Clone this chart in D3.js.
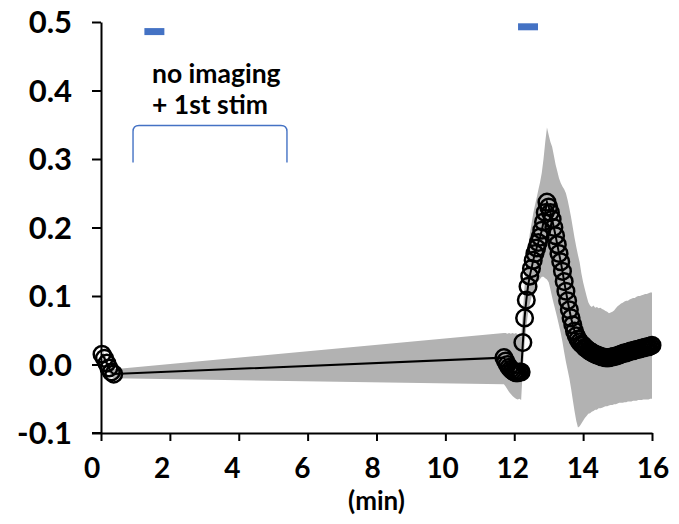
<!DOCTYPE html>
<html>
<head>
<meta charset="utf-8">
<script src="https://cdn.jsdelivr.net/npm/d3@7"></script>
<style>
  html, body { margin: 0; padding: 0; background: #fff; }
  svg { display: block; }
  text { font-family: Lato, "Open Sans", sans-serif; font-weight: 700; fill: #000; }
</style>
</head>
<body>
<svg id="chart" width="679" height="524"></svg>
<script>
// ---- data -------------------------------------------------------------
// first imaging block (min, dF/F)
const earlyTime  = [0.03, 0.10, 0.17, 0.23, 0.30, 0.37];
const earlyMean  = [0.015, 0.009, 0.002, -0.005, -0.011, -0.014];
const earlyUpper = [0.021, 0.015, 0.008, 0.001, -0.005, -0.007];
const earlyLower = [0.009, 0.003, -0.004, -0.011, -0.017, -0.020];

// second imaging block (min)
const lateTime = [
  11.70,11.75,11.80,11.85,11.90,11.95,12.00,12.05,12.10,12.15,12.20,
  12.25,12.30,12.35,12.40,12.45,12.50,12.55,12.60,12.65,12.70,12.75,12.80,12.85,12.90,12.95,
  13.00,13.05,13.10,13.15,13.20,13.25,13.30,13.35,13.40,13.45,13.50,13.55,13.60,13.65,13.70,13.75,13.80,13.85,13.90,13.95,
  14.00,14.05,14.10,14.15,14.20,14.25,14.30,14.35,14.40,14.45,14.50,14.55,14.60,14.65,14.70,14.75,14.80,14.85,14.90,14.95,
  15.00,15.05,15.10,15.15,15.20,15.25,15.30,15.35,15.40,15.45,15.50,15.55,15.60,15.65,15.70,15.75,15.80,15.85,15.90,15.95,16.00
];
const lateMean = [
  0.010,0.005,0.000,-0.004,-0.007,-0.009,-0.011,-0.012,-0.012,-0.011,-0.011,
  0.032,0.068,0.094,0.114,0.129,0.140,0.152,0.162,0.170,0.178,0.186,0.196,0.208,0.222,0.237,
  0.230,0.222,0.212,0.200,0.188,0.175,0.162,0.150,0.136,0.121,0.107,0.093,0.080,0.068,0.058,0.049,0.042,0.037,0.033,0.030,
  0.028,0.025,0.023,0.021,0.019,0.018,0.016,0.015,0.014,0.013,0.012,0.011,0.011,0.010,0.010,0.010,0.011,0.011,0.012,0.012,
  0.013,0.014,0.015,0.016,0.017,0.017,0.018,0.019,0.020,0.020,0.021,0.022,0.022,0.023,0.024,0.024,0.025,0.026,0.026,0.027,0.028
];
const lateUpper = [
  0.046,0.046,0.045,0.046,0.045,0.046,0.045,0.046,0.044,0.043,0.040,
  0.075,0.115,0.145,0.170,0.190,0.205,0.220,0.232,0.243,0.255,0.266,0.280,0.300,0.325,0.346,
  0.335,0.325,0.318,0.305,0.292,0.282,0.272,0.265,0.260,0.256,0.250,0.240,0.228,0.215,0.200,0.185,0.172,0.160,0.149,0.133,
  0.120,0.110,0.100,0.091,0.086,0.084,0.086,0.083,0.084,0.082,0.083,0.081,0.080,0.078,0.077,0.075,0.076,0.077,0.079,0.082,
  0.085,0.087,0.089,0.090,0.092,0.093,0.093,0.095,0.096,0.097,0.097,0.099,0.100,0.100,0.101,0.102,0.103,0.103,0.104,0.105,0.105
];
const lateLower = [
  -0.029,-0.032,-0.036,-0.040,-0.043,-0.046,-0.048,-0.050,-0.051,-0.050,-0.052,
  -0.005,0.030,0.055,0.075,0.088,0.098,0.106,0.112,0.118,0.122,0.125,0.128,0.128,0.126,0.124,
  0.120,0.110,0.098,0.088,0.078,0.068,0.057,0.046,0.033,0.018,0.004,-0.008,-0.020,-0.035,-0.052,-0.068,-0.082,-0.092,-0.090,-0.086,
  -0.082,-0.078,-0.075,-0.072,-0.071,-0.069,-0.068,-0.066,-0.066,-0.064,-0.064,-0.063,-0.062,-0.061,-0.061,-0.060,-0.059,-0.059,-0.058,-0.058,
  -0.057,-0.056,-0.056,-0.056,-0.055,-0.055,-0.054,-0.054,-0.054,-0.053,-0.053,-0.053,-0.052,-0.052,-0.052,-0.051,-0.051,-0.051,-0.051,-0.050,-0.050
];

// stimulation periods (min) and the level their bars sit at
const stimStart = [1.26, 12.11];
const stimEnd   = [1.84, 12.69];
const stimLevel = [0.486, 0.493];

// axis ticks
const xTicks = [0, 2, 4, 6, 8, 10, 12, 14, 16];
const xTickLabels = ["0", "2", "4", "6", "8", "10", "12", "14", "16"];
const yTicks = [-0.1, 0.0, 0.1, 0.2, 0.3, 0.4, 0.5];
const yTickLabels = ["-0.1", "0.0", "0.1", "0.2", "0.3", "0.4", "0.5"];
const xTitle = "(min)";
const noteLines = ["no imaging", "+ 1st stim"];

// ---- assemble ---------------------------------------------------------
const points = earlyTime.map((t, i) => ({ t, v: earlyMean[i], hi: earlyUpper[i], lo: earlyLower[i] }))
  .concat(lateTime.map((t, i) => ({ t, v: lateMean[i], hi: lateUpper[i], lo: lateLower[i] })));

const svg = d3.select("#chart");

const x = d3.scaleLinear().domain([0, 16]).range([101, 652]);
const y = d3.scaleLinear().domain([-0.1, 0.5]).range([433, 22]);
// tick labels are spread slightly wider than the tick marks
const xLab = d3.scaleLinear().domain([0, 16]).range([92, 653]);

const blue = "#4472C4";

// axes
const gx = svg.append("g").attr("transform", `translate(0,${y(-0.1)})`)
  .call(d3.axisBottom(x).tickValues(xTicks).tickSize(8).tickSizeOuter(0).tickFormat(""));
const gy = svg.append("g").attr("transform", `translate(${x(0)},0)`)
  .call(d3.axisLeft(y).tickValues(yTicks).tickSize(9).tickSizeOuter(0).tickFormat(""));
[gx, gy].forEach(g => {
  g.selectAll("path.domain").attr("stroke", "#000").attr("stroke-width", 2);
  g.selectAll(".tick line").attr("stroke", "#000").attr("stroke-width", 2);
});
// x axis line continues to the left under the bottom y tick
svg.append("line")
  .attr("x1", x(0) - 9).attr("x2", x(0))
  .attr("y1", y(-0.1)).attr("y2", y(-0.1))
  .attr("stroke", "#000").attr("stroke-width", 2);

svg.append("g").selectAll("text").data(xTicks).join("text")
  .attr("x", d => xLab(d)).attr("y", 478)
  .attr("text-anchor", "middle").attr("font-size", 28)
  .text((d, i) => xTickLabels[i]);

svg.append("g").selectAll("text").data(yTicks).join("text")
  .attr("x", 72).attr("y", d => y(d))
  .attr("dy", "0.36em")
  .attr("text-anchor", "end").attr("font-size", 31)
  .text((d, i) => yTickLabels[i]);

svg.append("text")
  .attr("x", (x(0) + x(16)) / 2).attr("y", 510)
  .attr("text-anchor", "middle").attr("font-size", 26)
  .text(xTitle);

// variability band
svg.append("path")
  .datum(points)
  .attr("fill", "#b2b2b2")
  .attr("d", d3.area().x(d => x(d.t)).y0(d => y(d.lo)).y1(d => y(d.hi)));

// mean trace
svg.append("path")
  .datum(points)
  .attr("fill", "none").attr("stroke", "#000").attr("stroke-width", 2)
  .attr("d", d3.line().x(d => x(d.t)).y(d => y(d.v)));

svg.append("g").selectAll("circle").data(points).join("circle")
  .attr("cx", d => x(d.t)).attr("cy", d => y(d.v)).attr("r", 8.3)
  .attr("fill", "none").attr("stroke", "#000").attr("stroke-width", 2.5);

// stimulation bars
svg.append("g").selectAll("line").data(stimStart).join("line")
  .attr("x1", (d, i) => x(stimStart[i])).attr("x2", (d, i) => x(stimEnd[i]))
  .attr("y1", (d, i) => y(stimLevel[i])).attr("y2", (d, i) => y(stimLevel[i]))
  .attr("stroke", blue).attr("stroke-width", 7);

// bracket over the gap between imaging blocks
const bx0 = x(0.93), bx1 = x(5.4), byTop = y(0.349), byBot = y(0.295), r = 6;
svg.append("path")
  .attr("fill", "none").attr("stroke", blue).attr("stroke-width", 1.4)
  .attr("d", `M${bx0},${byBot} L${bx0},${byTop + r} Q${bx0},${byTop} ${bx0 + r},${byTop}
              L${bx1 - r},${byTop} Q${bx1},${byTop} ${bx1},${byTop + r} L${bx1},${byBot}`);

svg.append("g").selectAll("text").data(noteLines).join("text")
  .attr("x", x(1.48)).attr("y", (d, i) => 83 + i * 31)
  .attr("font-size", 26.5)
  .text(d => d);
</script>
</body>
</html>
